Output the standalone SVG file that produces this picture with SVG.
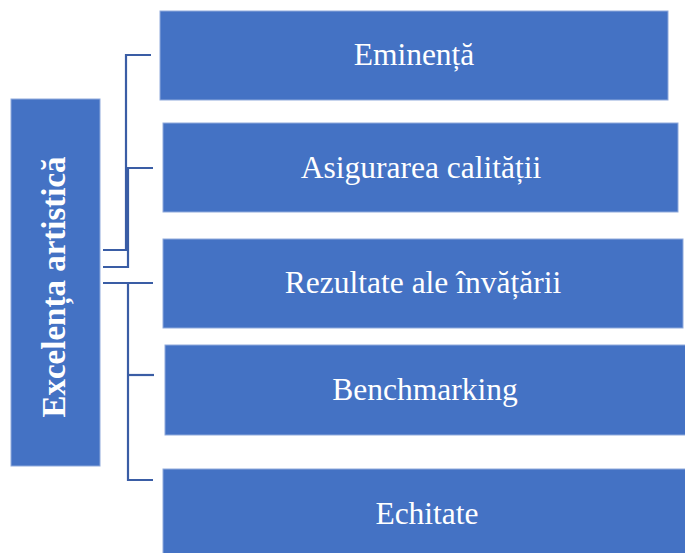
<svg xmlns="http://www.w3.org/2000/svg" width="685" height="553" viewBox="0 0 685 553">
<style>
.box{fill:#4472C4;stroke:#8FAADC;stroke-width:1}
.lbl{font-family:"Liberation Serif","Times New Roman",serif;font-size:31.5px;fill:#FFFFFF;text-anchor:middle}
.conn{fill:none;stroke:#3A5DA5;stroke-width:2.2}
</style>
<rect width="685" height="553" fill="#FFFFFF"/>
<g id="connectors">
<path class="conn" d="M103,250 H126 V55 H151"/>
<path class="conn" d="M103,267 H128 V168 H153"/>
<path class="conn" d="M103,283 H153"/>
<path class="conn" d="M128,283 V480 H153"/>
<path class="conn" d="M128,375 H154"/>
</g>
<g id="root">
<rect class="box" x="11" y="99" width="89" height="367"/>
<text class="lbl" transform="translate(65,287) rotate(-90)" style="font-weight:bold;font-size:33px">Excelența artistică</text>
</g>
<g id="n1">
<rect class="box" x="160" y="11" width="508" height="89"/>
<text class="lbl" x="414" y="65">Eminență</text>
</g>
<g id="n2">
<rect class="box" x="163" y="123" width="515" height="89"/>
<text class="lbl" x="421" y="178">Asigurarea calității</text>
</g>
<g id="n3">
<rect class="box" x="163" y="239" width="520" height="89"/>
<text class="lbl" x="423" y="293">Rezultate ale învățării</text>
</g>
<g id="n4">
<rect class="box" x="165" y="345" width="525" height="90"/>
<text class="lbl" x="425" y="400">Benchmarking</text>
</g>
<g id="n5">
<rect class="box" x="163" y="469" width="530" height="90"/>
<text class="lbl" x="427" y="524">Echitate</text>
</g>
</svg>
